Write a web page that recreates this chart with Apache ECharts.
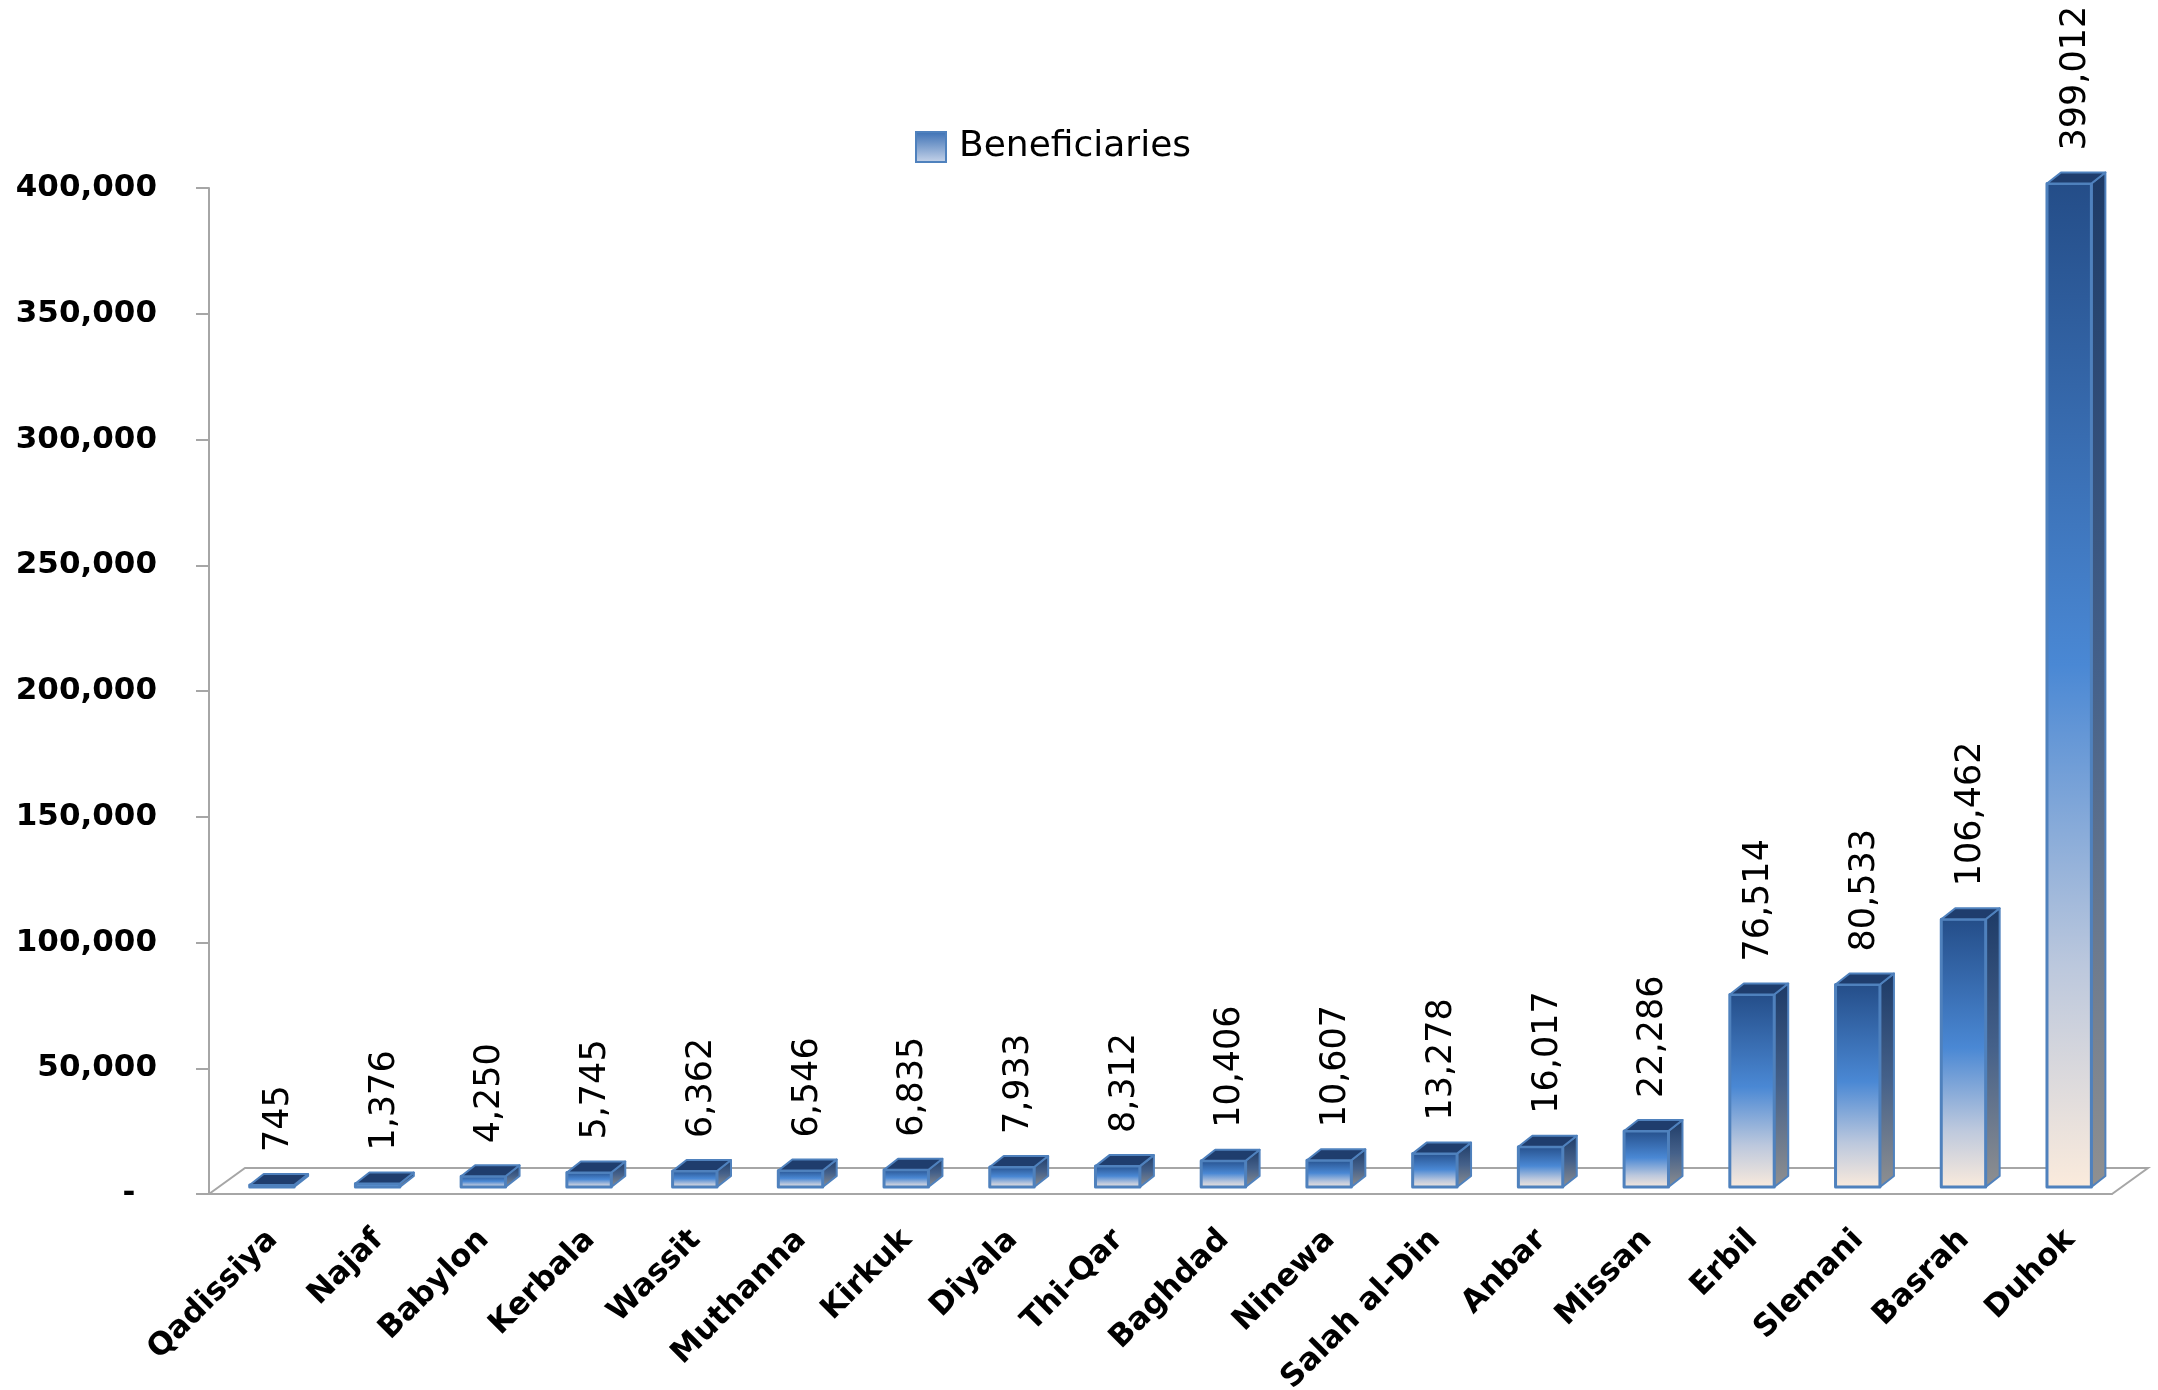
<!DOCTYPE html>
<html>
<head>
<meta charset="utf-8">
<script src="https://cdn.jsdelivr.net/npm/echarts@6/dist/echarts.min.js"></script>
<style>
html, body { margin: 0; padding: 0; background: #fff; }
#chart { width: 2158px; height: 1390px; }
</style>
</head>
<body>
<div id="chart"></div>
<script>
const provinces = ['Qadissiya', 'Najaf', 'Babylon', 'Kerbala', 'Wassit', 'Muthanna', 'Kirkuk', 'Diyala', 'Thi-Qar',
    'Baghdad', 'Ninewa', 'Salah al-Din', 'Anbar', 'Missan', 'Erbil', 'Slemani', 'Basrah', 'Duhok'];
const beneficiaries = [745, 1376, 4250, 5745, 6362, 6546, 6835, 7933, 8312,
    10406, 10607, 13278, 16017, 22286, 76514, 80533, 106462, 399012];
const seriesName = 'Beneficiaries';

const font = '"DejaVu Sans", sans-serif';
const edge = '#4f81bd';
const floorLine = '#a6a6a6';

const frontGrad = new echarts.graphic.LinearGradient(0, 0, 0, 1, [
    { offset: 0, color: '#244d88' },
    { offset: 0.48, color: '#4a88d4' },
    { offset: 0.78, color: '#bcc8dd' },
    { offset: 1, color: '#fbebdc' }
]);
const sideGrad = new echarts.graphic.LinearGradient(0, 0, 0, 1, [
    { offset: 0, color: '#1d3a66' },
    { offset: 0.5, color: '#45618a' },
    { offset: 1, color: '#909090' }
]);
const legendGrad = new echarts.graphic.LinearGradient(0, 0, 0, 1, [
    { offset: 0, color: '#3a6fb4' },
    { offset: 1, color: '#c8d5ea' }
]);

// fake 3d box for each value
function renderBar(params, api) {
    const i = api.value(0);
    const v = api.value(1);
    const band = api.size([1, 0])[0];
    const base = api.coord([i, 0]);
    const top = api.coord([i, v]);
    const w = band * 0.42, dx = 14, dy = 11;
    const cx = base[0] + band * 0.095;
    const by = base[1] - 7;
    const ty = Math.min(top[1] - 7, by - 2);
    const x0 = cx - w / 2, x1 = cx + w / 2;
    return {
        type: 'group',
        children: [
            {
                type: 'polygon',
                shape: { points: [[x1, by], [x1, ty], [x1 + dx, ty - dy], [x1 + dx, by - dy]] },
                style: { fill: sideGrad, stroke: edge, lineWidth: 2, lineJoin: 'round' }
            },
            {
                type: 'rect',
                shape: { x: x0, y: ty, width: w, height: by - ty },
                style: { fill: frontGrad, stroke: edge, lineWidth: 3, lineJoin: 'round' }
            },
            {
                type: 'polygon',
                shape: { points: [[x0, ty], [x1, ty], [x1 + dx, ty - dy], [x0 + dx, ty - dy]] },
                style: { fill: '#1f3d6d', stroke: edge, lineWidth: 2, lineJoin: 'round' }
            },
            {
                type: 'text',
                x: cx + dx / 2,
                y: ty - dy - 22,
                rotation: Math.PI / 2,
                style: {
                    text: v.toLocaleString('en-US'),
                    font: '35px ' + font,
                    fill: '#000',
                    align: 'left',
                    verticalAlign: 'middle'
                }
            }
        ]
    };
}

// floor parallelogram behind the category axis line
function renderFloor(params, api) {
    const band = api.size([1, 0])[0];
    const first = api.coord([0, 0]);
    const last = api.coord([provinces.length - 1, 0]);
    const xl = first[0] - band / 2, xr = last[0] + band / 2, y = first[1];
    return {
        type: 'polyline',
        shape: { points: [[xl, y], [xl + 36, y - 26], [xr + 36, y - 26], [xr, y]] },
        style: { stroke: floorLine, lineWidth: 2, fill: null }
    };
}

let chart = echarts.init(document.getElementById('chart'));
let option = {
    backgroundColor: '#fff',
    animation: false,
    grid: { left: 209, right: 46, top: 188, bottom: 196, outerBoundsMode: 'none' },
    legend: {
        data: [seriesName],
        left: 910,
        top: 124,
        icon: 'rect',
        itemWidth: 30,
        itemHeight: 30,
        textStyle: { fontFamily: font, fontSize: 36, color: '#000', padding: [0, 0, 0, 8] }
    },
    xAxis: {
        type: 'category',
        data: provinces,
        axisLine: { lineStyle: { color: floorLine, width: 2 } },
        axisTick: { length: 12, lineStyle: { color: floorLine, width: 2 } },
        axisLabel: {
            rotate: 45,
            margin: 30,
            interval: 0,
            verticalAlign: 'top',
            fontFamily: font,
            fontWeight: 'bold',
            fontSize: 31,
            color: '#000'
        }
    },
    yAxis: {
        type: 'value',
        min: 0,
        max: 400000,
        interval: 50000,
        splitLine: { show: false },
        axisLine: { show: true, lineStyle: { color: floorLine, width: 2 } },
        axisTick: { show: true, length: 13, lineStyle: { color: floorLine, width: 2 } },
        axisLabel: {
            margin: 52,
            fontFamily: font,
            fontWeight: 'bold',
            fontSize: 31,
            color: '#000',
            formatter: function (v) {
                return v === 0 ? '-  ' : v.toLocaleString('en-US');
            }
        }
    },
    series: [
        {
            name: 'floor',
            type: 'custom',
            silent: true,
            z: 1,
            renderItem: renderFloor,
            data: [[0, 0]]
        },
        {
            name: seriesName,
            type: 'custom',
            z: 3,
            renderItem: renderBar,
            itemStyle: { color: legendGrad, borderColor: edge, borderWidth: 2 },
            data: provinces.map(function (p, i) { return [i, beneficiaries[i]]; })
        }
    ]
};

option && chart.setOption(option);
</script>
</body>
</html>
